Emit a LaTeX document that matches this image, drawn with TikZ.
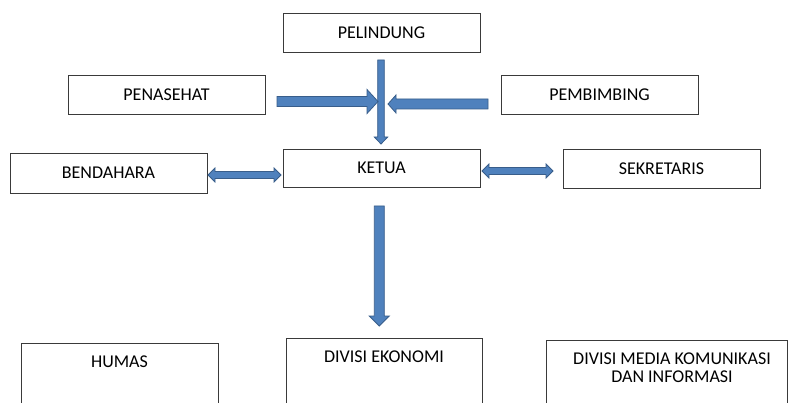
\documentclass[tikz,border=0pt]{standalone}
\usepackage{fontspec}
\setmainfont{Carlito}
\definecolor{arrowfill}{HTML}{4F81BD}
\definecolor{arrowline}{HTML}{385D8A}
\definecolor{boxline}{HTML}{3A3A3A}
\begin{document}
\begin{tikzpicture}[x=1pt,y=-1pt,
  box/.style={draw=boxline, line width=0.9pt, fill=white, inner sep=0pt, font=\fontsize{18}{18}\selectfont},
  lbl/.style={font=\fontsize{18}{18}\selectfont, inner sep=0pt, align=center},
  blockarrow/.style={fill=arrowfill, draw=arrowline, line width=0.8pt, line join=miter}]
\clip (0,0) rectangle (789,403);
\fill[white] (0,0) rectangle (789,403);
% boxes
\node[box, minimum width=197pt, minimum height=39pt] (pelindung) at (381.5,32.5) {PELINDUNG};
\node[box, minimum width=197pt, minimum height=39pt] (penasehat) at (166.5,94.5) {PENASEHAT};
\node[box, minimum width=197pt, minimum height=39pt] (pembimbing) at (599.5,94.5) {PEMBIMBING};
\node[box, minimum width=197pt, minimum height=40pt] (bendahara) at (108.5,173) {BENDAHARA};
\node[box, minimum width=197pt, minimum height=38pt] (ketua) at (381.5,168) {KETUA};
\node[box, minimum width=197pt, minimum height=39pt] (sekretaris) at (661.5,168.5) {SEKRETARIS};
\node[box, minimum width=197pt, minimum height=87pt] (humas) at (119.5,386.5) {};
\node[box, minimum width=196pt, minimum height=92pt] (ekonomi) at (384,384) {};
\node[box, minimum width=241pt, minimum height=90pt] (media) at (666.5,385) {};
\node[lbl] (humasT) at (119.5,362) {HUMAS};
\node[lbl] (ekonomiT) at (384,357) {DIVISI EKONOMI};
\node[lbl] (mediaT) at (672,367.5) {DIVISI MEDIA KOMUNIKASI\\DAN INFORMASI};
% block arrows
\draw[blockarrow] (377.7,60) -- (384.3,60) -- (384.3,137) -- (387.7,137) -- (381,144) -- (374.3,137) -- (377.7,137) -- cycle;
\draw[blockarrow] (277,96.5) -- (367,96.5) -- (367,89.5) -- (378,101.5) -- (367,113.5) -- (367,106.5) -- (277,106.5) -- cycle;
\draw[blockarrow] (488,99) -- (396,99) -- (396,95) -- (388,104) -- (396,113) -- (396,109) -- (488,109) -- cycle;
\draw[blockarrow] (208,175) -- (215,168) -- (215,171.5) -- (274,171.5) -- (274,168) -- (281,175) -- (274,182) -- (274,178.5) -- (215,178.5) -- (215,182) -- cycle;
\draw[blockarrow] (482,171) -- (489,164) -- (489,167.5) -- (546,167.5) -- (546,164) -- (553,171) -- (546,178) -- (546,174.5) -- (489,174.5) -- (489,178) -- cycle;
\draw[blockarrow] (374.3,206) -- (384.3,206) -- (384.3,316) -- (389.3,316) -- (379.3,326) -- (369.3,316) -- (374.3,316) -- cycle;
\end{tikzpicture}
\end{document}
